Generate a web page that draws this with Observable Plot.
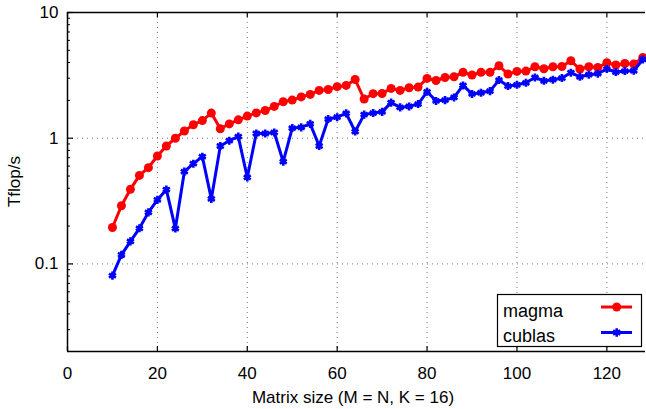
<!DOCTYPE html>
<html>
<head>
<meta charset="utf-8">
<script src="https://cdn.jsdelivr.net/npm/d3@7"></script>
<script src="https://cdn.jsdelivr.net/npm/@observablehq/plot@0.6"></script>
<style>
  html, body { margin: 0; padding: 0; background: #fff; }
  #chart { width: 646px; height: 409px; }
  svg { font-family: "Liberation Sans", Arial, Helvetica, sans-serif; }
</style>
</head>
<body>
<div id="chart"></div>
<script>
// ---- data ----
const sizes = [10,12,14,16,18,20,22,24,26,28,30,32,34,36,38,40,42,44,46,48,50,52,54,56,58,60,62,64,66,68,70,72,74,76,78,80,82,84,86,88,90,92,94,96,98,100,102,104,106,108,110,112,114,116,118,120,122,124,126,128];
const magma = [0.195,0.290,0.392,0.506,0.583,0.722,0.867,1.00,1.14,1.28,1.38,1.585,1.19,1.30,1.40,1.50,1.59,1.66,1.79,1.95,2.01,2.13,2.23,2.40,2.44,2.57,2.63,2.93,2.05,2.26,2.27,2.49,2.40,2.52,2.55,2.99,2.88,3.04,3.08,3.34,3.18,3.34,3.34,3.77,3.24,3.40,3.42,3.70,3.57,3.70,3.72,4.13,3.55,3.70,3.65,3.98,3.82,3.93,3.89,4.39];
const cublas = [0.0807,0.118,0.151,0.192,0.257,0.323,0.390,0.191,0.542,0.627,0.713,0.329,0.867,0.955,1.03,0.488,1.09,1.09,1.11,0.650,1.205,1.22,1.30,0.867,1.42,1.47,1.575,1.13,1.54,1.585,1.62,1.92,1.76,1.79,1.87,2.34,1.98,2.01,2.11,2.63,2.25,2.30,2.37,2.90,2.60,2.66,2.76,3.04,2.86,2.92,3.01,3.32,3.08,3.20,3.26,3.55,3.36,3.42,3.44,4.23];
const seriesNames = ["magma", "cublas"];
const xTicks = [0,20,40,60,80,100,120];
const xGrid = [20,40,60,80,100,120];
const yTicks = [0.1,1,10];
const yGrid = [0.1,1];
const yMinorTicks = [0.03,0.04,0.05,0.06,0.07,0.08,0.09,0.2,0.3,0.4,0.5,0.6,0.7,0.8,0.9,2,3,4,5,6,7,8,9];
const xLabel = "Matrix size (M = N, K = 16)";
const yLabel = "Tflop/s";

const magmaData = sizes.map((s, i) => ({size: s, v: magma[i]}));
const cublasData = sizes.map((s, i) => ({size: s, v: cublas[i]}));

const W = 646, H = 409;
const mL = 67, mR = 1, mT = 12, mB = 58;
const frameW = W - mL - mR, frameH = H - mT - mB;
const RED = "#ff0000", BLUE = "#0000ff";
const FONT = 17;

const chart = Plot.plot({
  width: W, height: H,
  marginLeft: mL, marginRight: mR, marginTop: mT, marginBottom: mB,
  style: {fontFamily: '"Liberation Sans", Arial, Helvetica, sans-serif', fontSize: FONT + "px", color: "#000", background: "#fff", overflow: "visible"},
  x: {domain: [0, 128.6]},
  y: {type: "log", domain: [0.0201, 10]},
  marks: [
    // dotted grid
    Plot.ruleX(xGrid, {stroke: "#777", strokeWidth: 1, strokeDasharray: "1,4"}),
    Plot.ruleY(yGrid, {stroke: "#777", strokeWidth: 1, strokeDasharray: "1,4"}),
    // inward ticks
    Plot.ruleX(xTicks, {stroke: "#000", strokeWidth: 1.2, insetTop: frameH - 5}),
    Plot.ruleX(xTicks, {stroke: "#000", strokeWidth: 1.2, insetBottom: frameH - 5}),
    Plot.ruleY(yTicks, {stroke: "#000", strokeWidth: 1.2, insetRight: frameW - 6}),
    Plot.ruleY(yMinorTicks, {stroke: "#000", strokeWidth: 1, insetRight: frameW - 3}),
    // border (left, top, bottom)
    Plot.ruleX([0], {stroke: "#000", strokeWidth: 1.5}),
    Plot.ruleY([10], {stroke: "#000", strokeWidth: 1.5}),
    Plot.ruleY([0.0201], {stroke: "#000", strokeWidth: 1.5}),
    // tick labels
    Plot.axisX(xTicks, {tickSize: 0, tickPadding: 15, fontSize: FONT, label: null}),
    Plot.axisY(yTicks, {tickSize: 0, tickPadding: 9, fontSize: FONT, label: null, tickFormat: d => String(d)}),
    // series
    Plot.line(magmaData, {x: "size", y: "v", stroke: RED, strokeWidth: 3}),
    Plot.dot(magmaData, {x: "size", y: "v", r: 4.5, fill: RED, stroke: null}),
    Plot.line(cublasData, {x: "size", y: "v", stroke: BLUE, strokeWidth: 3}),
    Plot.dot(cublasData, {x: "size", y: "v", r: 3.8, symbol: "asterisk", stroke: BLUE, strokeWidth: 2.6})
  ]
});

document.getElementById("chart").appendChild(chart);

// axis titles and legend
const svg = d3.select(chart);
svg.append("text")
  .attr("x", mL + frameW / 2 - 3).attr("y", 403)
  .style("text-anchor", "middle").attr("font-size", FONT).attr("fill", "#000")
  .text(xLabel);
svg.append("text")
  .attr("transform", `translate(20,${mT + frameH / 2}) rotate(-90)`)
  .style("text-anchor", "middle").attr("font-size", FONT).attr("fill", "#000")
  .text(yLabel);

const lg = svg.append("g");
lg.append("rect").attr("x", 497.5).attr("y", 294.5).attr("width", 144).attr("height", 52)
  .style("fill", "#fff").style("stroke", "#000").style("stroke-width", "1.2px");
const legendRows = [
  {name: seriesNames[0], color: RED, y: 307, ty: 317, sym: d3.symbolCircle, size: Math.PI * 4.5 * 4.5, fill: true},
  {name: seriesNames[1], color: BLUE, y: 332.5, ty: 342, sym: d3.symbolAsterisk, size: 3.8 * 3.8 * 3.4, fill: false}
];
for (const r of legendRows) {
  lg.append("text").attr("x", 503).attr("y", r.ty).attr("font-size", FONT + 1)
    .style("text-anchor", "start").style("fill", "#000").text(r.name);
  lg.append("line").attr("x1", 601).attr("x2", 632).attr("y1", r.y).attr("y2", r.y)
    .style("stroke", r.color).style("stroke-width", "3px");
  lg.append("path").attr("transform", `translate(616.7,${r.y})`)
    .attr("d", d3.symbol(r.sym, r.size)())
    .style("fill", r.fill ? r.color : "none")
    .style("stroke", r.fill ? "none" : r.color)
    .style("stroke-width", "2.6px");
}
</script>
</body>
</html>
